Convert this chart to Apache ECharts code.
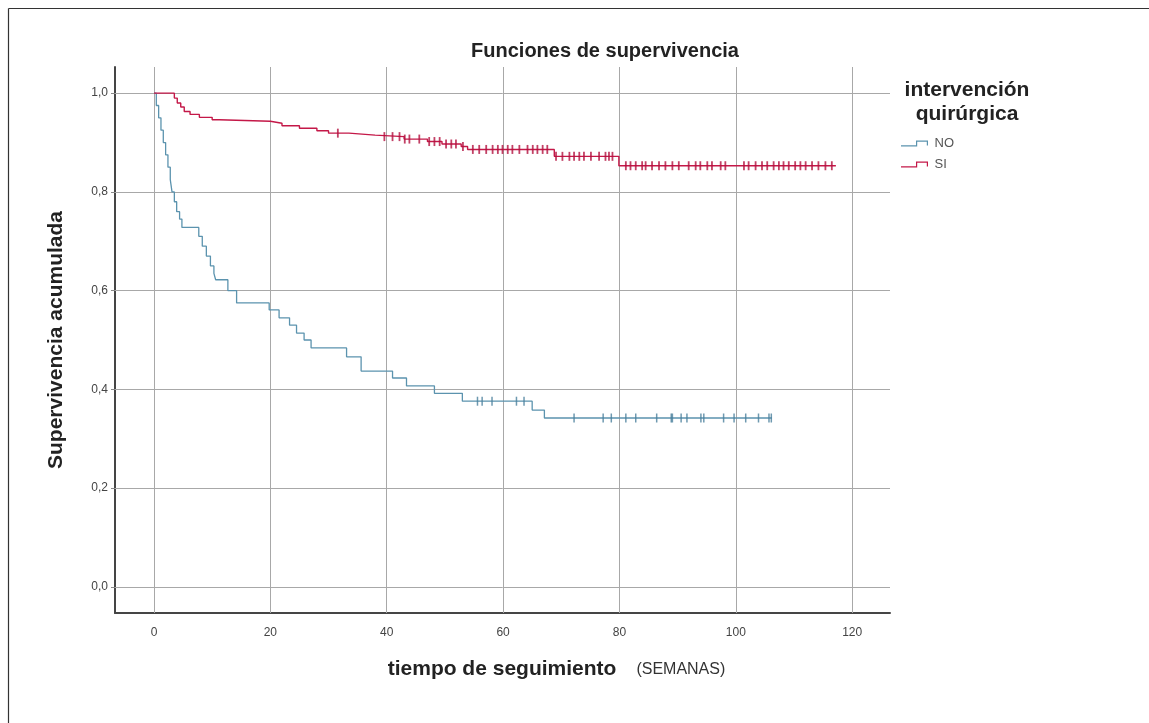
<!DOCTYPE html>
<html>
<head>
<meta charset="utf-8">
<script src="https://cdn.jsdelivr.net/npm/echarts@6/dist/echarts.min.js"></script>
<style>
html,body{margin:0;padding:0;background:#fff;}
#chart{width:1149px;height:723px;}
</style>
</head>
<body>
<div id="chart"></div>
<script>
// ---- data ----
const titleText = 'Funciones de supervivencia';
const legendTitle = 'intervención\nquirúrgica';
const seriesNames = ['NO', 'SI'];
const xTicks = [0, 20, 40, 60, 80, 100, 120];
const yTicks = [0, 0.2, 0.4, 0.6, 0.8, 1.0];

// Kaplan-Meier steps [time, survival]
const noSteps = [[0,1],[0.4,0.975],[0.8,0.95],[1.2,0.925],[1.6,0.9],[2,0.875],[2.4,0.85],[2.8,0.825],[3.1,0.8],[3.5,0.78],[3.9,0.76],[4.4,0.745],[4.8,0.728],[7.7,0.71],[8.3,0.69],[9,0.67],[9.7,0.65],[10.3,0.635],[10.6,0.622],[12.7,0.6],[14.2,0.575],[19.8,0.561],[21.5,0.545],[23.3,0.53],[24.5,0.514],[25.8,0.5],[27,0.484],[33.1,0.466],[35.6,0.437],[41,0.423],[43.4,0.407],[48.2,0.392],[53,0.376],[65,0.358],[67.1,0.342],[106.2,0.342]];
const siSteps = [[0,1],[3.5,0.99],[4,0.98],[4.6,0.972],[5.2,0.963],[6.2,0.957],[7.8,0.951],[10,0.946],[11.2,0.943],[20,0.939],[22,0.934],[25,0.929],[28,0.924],[30,0.919],[33.5,0.915],[38,0.912],[43,0.907],[47,0.902],[49.5,0.897],[52.8,0.892],[53.9,0.886],[68.8,0.872],[79.9,0.853],[117.2,0.853]];

// censored observations [time, survival]
const noCensored = [[55.6,0.376],[56.4,0.376],[58.1,0.376],[62.3,0.376],[63.6,0.376],[72.2,0.342],[77.2,0.342],[78.6,0.342],[81.1,0.342],[82.8,0.342],[86.4,0.342],[88.9,0.342],[89.1,0.342],[90.6,0.342],[91.6,0.342],[94.0,0.342],[94.5,0.342],[97.9,0.342],[99.7,0.342],[101.7,0.342],[103.9,0.342],[105.7,0.342],[106.1,0.342]];
const siCensored = [[31.6,0.919],[39.6,0.912],[41.0,0.912],[42.2,0.912],[43.1,0.907],[43.9,0.907],[45.6,0.907],[47.3,0.902],[48.2,0.902],[49.1,0.902],[50.2,0.897],[51.1,0.897],[51.9,0.897],[53.1,0.892],[54.8,0.886],[55.9,0.886],[57.1,0.886],[58.2,0.886],[59.1,0.886],[59.9,0.886],[60.8,0.886],[61.6,0.886],[62.8,0.886],[64.2,0.886],[65.1,0.886],[65.9,0.886],[66.8,0.886],[67.6,0.886],[69.1,0.872],[70.2,0.872],[71.4,0.872],[72.2,0.872],[73.1,0.872],[73.9,0.872],[75.1,0.872],[76.5,0.872],[77.6,0.872],[78.2,0.872],[78.8,0.872],[81.1,0.853],[81.9,0.853],[82.8,0.853],[83.9,0.853],[84.5,0.853],[85.6,0.853],[86.8,0.853],[87.9,0.853],[89.1,0.853],[90.2,0.853],[91.9,0.853],[93.1,0.853],[93.9,0.853],[95.1,0.853],[95.9,0.853],[97.4,0.853],[98.2,0.853],[101.4,0.853],[102.2,0.853],[103.4,0.853],[104.5,0.853],[105.4,0.853],[106.5,0.853],[107.4,0.853],[108.2,0.853],[109.1,0.853],[110.2,0.853],[111.1,0.853],[112.0,0.853],[113.1,0.853],[114.2,0.853],[115.4,0.853],[116.5,0.853]];

// ---- chart ----
const FONT = '"Liberation Sans", Arial, sans-serif';
const colorNO = '#5b93ae';
const colorSI = '#c41848';
const stepIcon = 'path://M0,4.8 L15,4.8 L15,0 L27,0 L27,5 L25.8,5 L25.8,1.2 L16.2,1.2 L16.2,6 L0,6 Z';

const gridLines = yTicks.map(v => ({ yAxis: v })).concat(xTicks.map(v => ({ xAxis: v })));

const chart = echarts.init(document.getElementById('chart'), null, { renderer: 'canvas' });
chart.setOption({
  animation: false,
  backgroundColor: '#ffffff',
  textStyle: { fontFamily: FONT },
  title: [
    { text: titleText, left: 600, top: 36, textAlign: 'center',
      textStyle: { fontFamily: FONT, fontSize: 20, fontWeight: 'bold', color: '#222' } },
    { text: legendTitle, left: 962, top: 73, textAlign: 'center',
      textStyle: { fontFamily: FONT, fontSize: 21, fontWeight: 'bold', color: '#222', lineHeight: 24 } }
  ],
  legend: {
    data: seriesNames.map(n => ({ name: n, icon: stepIcon })),
    orient: 'vertical', left: 901, top: 137, itemWidth: 30, itemHeight: 6, itemGap: 8, padding: 0,
    textStyle: { fontFamily: FONT, fontSize: 13, color: '#555' }
  },
  grid: { left: 115, top: 67, right: 259, bottom: 110, containLabel: false },
  xAxis: {
    type: 'value', min: -6.7, max: 126.5,
    name: '{b|tiempo de seguimiento}{s|(SEMANAS)}',
    nameLocation: 'middle', nameGap: 46,
    nameTextStyle: { padding: [0, 0, 0, 108],
      rich: { b: { fontFamily: FONT, fontSize: 21, fontWeight: 'bold', color: '#222' },
              s: { fontFamily: FONT, fontSize: 16, color: '#333', padding: [0, 0, 0, 20] } } },
    axisLine: { show: true, onZero: false, lineStyle: { color: '#454545', width: 2 } },
    axisTick: { show: false },
    splitLine: { show: false },
    axisLabel: { customValues: xTicks, margin: 14, fontFamily: FONT, fontSize: 12, color: '#444',
                 showMinLabel: true, showMaxLabel: true }
  },
  yAxis: {
    type: 'value', min: -0.053, max: 1.053,
    name: 'Supervivencia acumulada', nameLocation: 'middle', nameGap: 48,
    nameTextStyle: { fontFamily: FONT, fontSize: 21, fontWeight: 'bold', color: '#222' },
    axisLine: { show: true, onZero: false, lineStyle: { color: '#454545', width: 2 } },
    axisTick: { show: true, customValues: yTicks, length: 4, lineStyle: { color: '#888' } },
    splitLine: { show: false },
    axisLabel: { customValues: yTicks, margin: 7, fontFamily: FONT, fontSize: 12, color: '#444',
                 formatter: v => v.toFixed(1).replace('.', ',') }
  },
  series: [
    { name: 'NO', type: 'line', step: 'end', data: noSteps, showSymbol: false, symbol: 'none',
      lineStyle: { color: colorNO, width: 1.3 }, itemStyle: { color: colorNO }, z: 3,
      markLine: { silent: true, z: 1, symbol: ['none', 'none'], label: { show: false },
        lineStyle: { color: '#a8a8a8', width: 1, type: 'solid' }, emphasis: { disabled: true },
        animation: false, data: gridLines } },
    { name: 'SI', type: 'line', step: 'end', data: siSteps, showSymbol: false, symbol: 'none',
      lineStyle: { color: colorSI, width: 1.4 }, itemStyle: { color: colorSI }, z: 3 },
    { name: 'NO censurado', type: 'scatter', data: noCensored, symbol: 'rect', symbolSize: [1.5, 9],
      itemStyle: { color: '#4a7f9c' }, z: 4, silent: true },
    { name: 'SI censurado', type: 'scatter', data: siCensored, symbol: 'rect', symbolSize: [1.8, 9],
      itemStyle: { color: '#b3103e' }, z: 4, silent: true }
  ],
  graphic: [
    { type: 'line', shape: { x1: 8.5, y1: 8.5, x2: 1149, y2: 8.5 }, style: { stroke: '#333', lineWidth: 1.2 }, silent: true },
    { type: 'line', shape: { x1: 8.5, y1: 8.5, x2: 8.5, y2: 723 }, style: { stroke: '#333', lineWidth: 1.2 }, silent: true }
  ]
});
</script>
</body>
</html>
